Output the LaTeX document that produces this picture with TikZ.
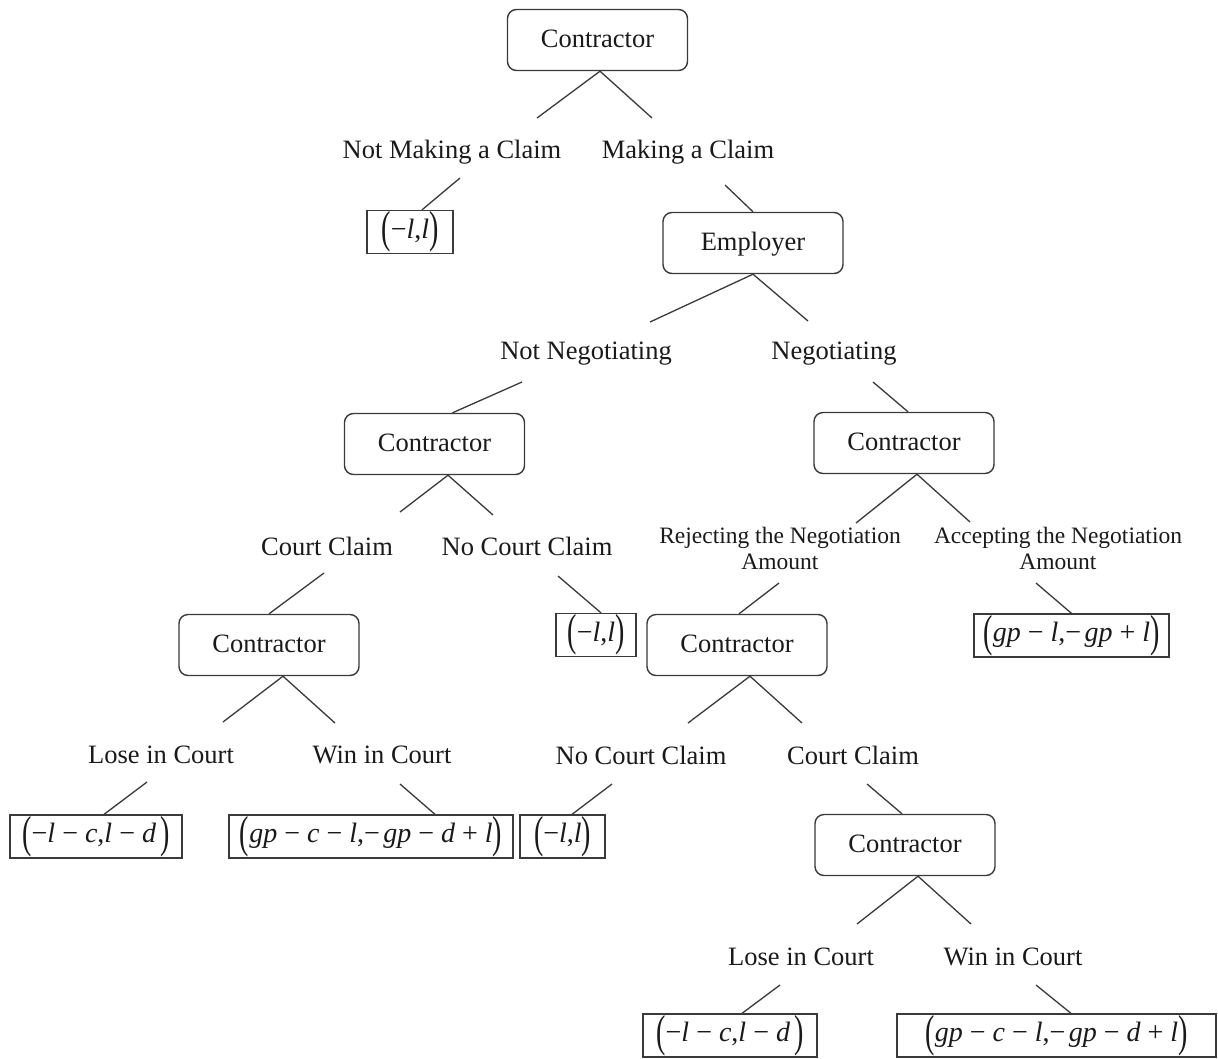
\documentclass[tikz,border=0pt]{standalone}
\usepackage{fontspec}
\setmainfont{Liberation Serif}
\usepackage{graphicx}
\usetikzlibrary{calc}
\definecolor{ln}{HTML}{3A3A3A}
\definecolor{tx}{HTML}{1A1A1A}
\newcommand{\lp}{\raisebox{-0.17em}{\scalebox{1}[1.6]{(}}}
\newcommand{\rp}{\raisebox{-0.17em}{\scalebox{1}[1.6]{)}}}
\newcommand{\op}[1]{\hspace{0.25em}#1\hspace{0.25em}}
\newcommand{\vr}[1]{\textit{#1}}
\tikzset{
  dec/.style={draw=ln, line width=1.4pt, rounded corners=9pt, minimum width=180pt,
    minimum height=61pt, inner sep=0pt, text=tx, text height=19pt, text depth=4pt,
    font=\fontsize{26.5}{30}\selectfont},
  pay/.style={draw=ln, line width=1.3pt, inner sep=0pt, minimum height=43pt, text=tx,
    font=\fontsize{28}{30}\selectfont},
  lab/.style={anchor=base, inner sep=0pt, text=tx, font=\fontsize{26.5}{30}\selectfont},
  labtwo/.style={anchor=center, inner sep=0pt, align=center, text=tx,
    font=\fontsize{23.5}{26}\selectfont},
  edge/.style={draw=ln, line width=1.3pt}
}
\begin{document}
\begin{tikzpicture}[x=1pt,y=-1pt]
\fill[white] (0,0) rectangle (1218,1058);
\useasboundingbox (0,0) rectangle (1218,1058);

% decision nodes
\node[dec] (C1) at (597.5,40) {Contractor};
\node[dec] (E)  at (753,243) {Employer};
\node[dec] (C2) at (434.5,444) {Contractor};
\node[dec] (C3) at (904,443) {Contractor};
\node[dec] (C4) at (269,645) {Contractor};
\node[dec] (C5) at (737,645) {Contractor};
\node[dec] (C6) at (905,845) {Contractor};

% labels
\node[lab] (L1)  at (452,158) {Not Making a Claim};
\node[lab] (L2)  at (688,158) {Making a Claim};
\node[lab] (L3)  at (586,359) {Not Negotiating};
\node[lab] (L4)  at (834,359) {Negotiating};
\node[lab] (L5)  at (327,555) {Court Claim};
\node[lab] (L6)  at (527,555) {No Court Claim};
\node[labtwo] (L7) at (780,548) {Rejecting the Negotiation\\Amount};
\node[labtwo] (L8) at (1058,548) {Accepting the Negotiation\\Amount};
\node[lab] (L9)  at (161,763) {Lose in Court};
\node[lab] (L10) at (382,763) {Win in Court};
\node[lab] (L11) at (641,764) {No Court Claim};
\node[lab] (L12) at (853,764) {Court Claim};
\node[lab] (L13) at (801,965) {Lose in Court};
\node[lab] (L14) at (1013,965) {Win in Court};

% payoffs
\node[pay, minimum width=86pt]  (P1) at (410,232) {\lp−\vr{l},\vr{l}\rp};
\node[pay, minimum width=80pt]  (P2) at (596,635) {\lp−\vr{l},\vr{l}\rp};
\node[pay, minimum width=195pt] (P3) at (1071.5,635.5) {\lp\vr{gp}\op{−}\vr{l},−\hspace{0.12em}\vr{gp}\op{+}\vr{l}\rp};
\node[pay, minimum width=172pt] (P4) at (96,836.5) {\lp−\vr{l}\op{−}\vr{c},\vr{l}\op{−}\vr{d}\hspace{0.15em}\rp};
\node[pay, minimum width=284pt] (P5) at (371,836.5) {\lp\vr{gp}\op{−}\vr{c}\op{−}\vr{l},−\hspace{0.12em}\vr{gp}\op{−}\vr{d}\op{+}\vr{l}\rp};
\node[pay, minimum width=85pt]  (P6) at (562.5,836.5) {\lp−\vr{l},\vr{l}\rp};
\node[pay, minimum width=174pt] (P7) at (730,1035.5) {\lp−\vr{l}\op{−}\vr{c},\vr{l}\op{−}\vr{d}\hspace{0.15em}\rp};
\node[pay, minimum width=319pt] (P8) at (1056.5,1035.5) {\lp\vr{gp}\op{−}\vr{c}\op{−}\vr{l},−\hspace{0.12em}\vr{gp}\op{−}\vr{d}\op{+}\vr{l}\rp};

% free ends of connectors
\coordinate (a1) at (537,118);   \coordinate (a2) at (652,118);
\coordinate (b1) at (460,178);   \coordinate (b2) at (725,185);
\coordinate (a3) at (650,322);   \coordinate (a4) at (808,321);
\coordinate (b3) at (522,382);   \coordinate (b4) at (873,382);
\coordinate (a5) at (400,512);   \coordinate (a6) at (493,515);
\coordinate (b5) at (324,573);   \coordinate (b6) at (558,576);
\coordinate (a7) at (856,523);   \coordinate (a8) at (970,522);
\coordinate (b7) at (779,583);   \coordinate (b8) at (1036,583);
\coordinate (a9) at (223,722);   \coordinate (a10) at (335,723);
\coordinate (b9) at (147,782);   \coordinate (b10) at (400,784);
\coordinate (a11) at (688,723);  \coordinate (a12) at (802,723);
\coordinate (b11) at (612,784);  \coordinate (b12) at (867,784);
\coordinate (a13) at (857,924);  \coordinate (a14) at (971,924);
\coordinate (b13) at (780,985);  \coordinate (b14) at (1036,985);

% connectors
\draw[edge] (a1) -- ($(C1.south)+(2.5,0)$) -- (a2);
\draw[edge] (b1) -- ($(P1.north)+(12,0)$);
\draw[edge] (b2) -- (E.north);
\draw[edge] (a3) -- (E.south) -- (a4);
\draw[edge] (b3) -- ($(C2.north)+(18,0)$);
\draw[edge] (b4) -- ($(C3.north)+(4,0)$);
\draw[edge] (a5) -- ($(C2.south)+(13.5,0)$) -- (a6);
\draw[edge] (b5) -- (C4.north);
\draw[edge] (b6) -- ($(P2.north)+(5,0)$);
\draw[edge] (a7) -- ($(C3.south)+(13,0)$) -- (a8);
\draw[edge] (b7) -- ($(C5.north)+(2,0)$);
\draw[edge] (b8) -- (P3.north);
\draw[edge] (a9) -- ($(C4.south)+(14,0)$) -- (a10);
\draw[edge] (b9) -- ($(P4.north)+(8,0)$);
\draw[edge] (b10) -- ($(P5.north)+(64,0)$);
\draw[edge] (a11) -- ($(C5.south)+(13,0)$) -- (a12);
\draw[edge] (b11) -- ($(P6.north)+(9.5,0)$);
\draw[edge] (b12) -- ($(C6.north)+(-3,0)$);
\draw[edge] (a13) -- ($(C6.south)+(13,0)$) -- (a14);
\draw[edge] (b13) -- ($(P7.north)+(12,0)$);
\draw[edge] (b14) -- ($(P8.north)+(14.5,0)$);
\end{tikzpicture}
\end{document}
